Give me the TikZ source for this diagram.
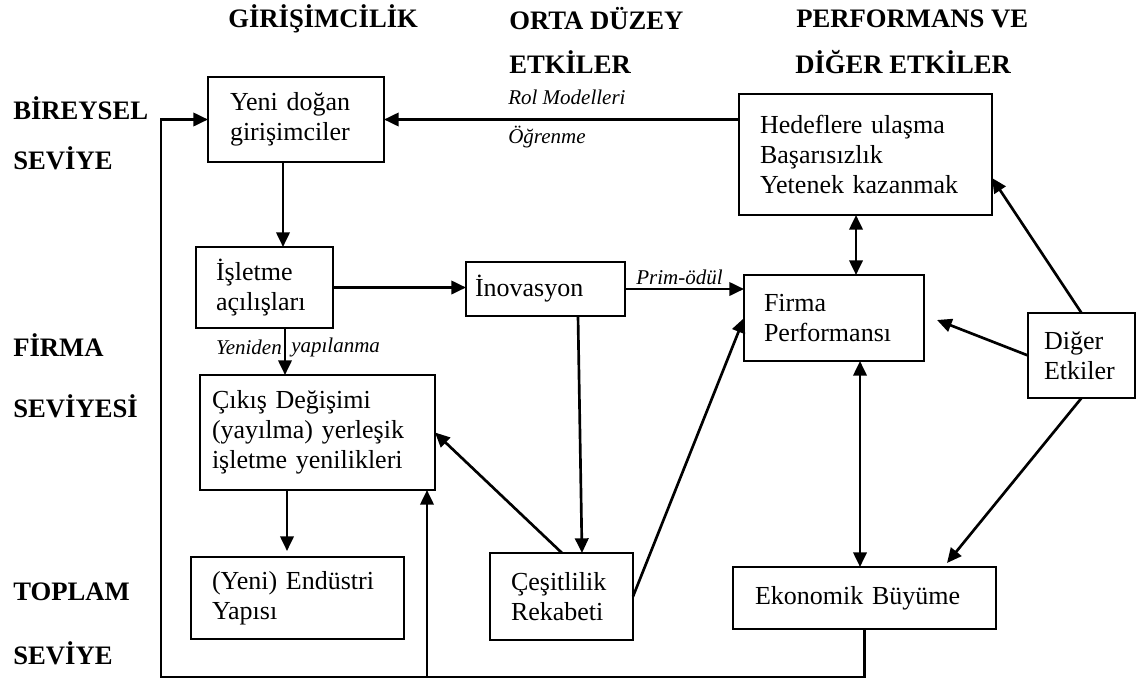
\documentclass[tikz,border=0pt]{standalone}
\usepackage{fontspec}
\setmainfont{Liberation Serif}
\usetikzlibrary{arrows.meta,calc}
\begin{document}
\begin{tikzpicture}[x=0.75pt,y=-0.75pt,
 box/.style={draw, line width=1.5pt, outer sep=0pt, inner ysep=0pt, anchor=north west, align=left, font=\fontsize{19.5}{22.5}\selectfont},
 arr/.style={line width=2pt, -{Triangle[length=11pt,width=10pt]}},
 darr/.style={line width=2pt, {Triangle[length=11pt,width=10pt]}-{Triangle[length=11pt,width=10pt]}},
 hdr/.style={anchor=west, inner sep=0pt, font=\fontsize{20}{24}\selectfont\bfseries},
 lbl/.style={anchor=west, inner sep=0pt, font=\fontsize{15.75}{18}\selectfont\itshape},
 lble/.style={anchor=east, inner sep=0pt, font=\fontsize{15.75}{18}\selectfont\itshape}]
\useasboundingbox (0,0) rectangle (1144,682);

% headers
\node[hdr] (h1) at (228,19) {GİRİŞİMCİLİK};
\node[hdr] (h2) at (509,19) {ORTA DÜZEY};
\node[hdr] (h3) at (509,62) {ETKİLER};
\node[hdr] (h4) at (796,19) {PERFORMANS VE};
\node[hdr] (h5) at (795,62) {DİĞER ETKİLER};
\node[hdr] (l1) at (13,108) {BİREYSEL};
\node[hdr] (l2) at (13,158) {SEVİYE};
\node[hdr] (l3) at (13,345) {FİRMA};
\node[hdr] (l4) at (13,406) {SEVİYESİ};
\node[hdr] (l5) at (13,592) {TOPLAM};
\node[hdr] (l6) at (13,653) {SEVİYE};

% boxes
\node[box, text width=99pt, inner xsep=16.5pt, minimum height=63.75pt] (A) at (208,77) {Yeni doğan\\girişimciler};
\node[box, text width=158.25pt, inner xsep=15.75pt, minimum height=90.75pt] (B) at (739,94) {Hedeflere ulaşma\\Başarısızlık\\Yetenek kazanmak};
\node[box, text width=72.75pt, inner xsep=15pt, minimum height=60.75pt] (C) at (196,247) {İşletme\\açılışları};
\node[box, text width=105.75pt, inner xsep=6.75pt, minimum height=40.5pt] (D) at (466,262) {İnovasyon};
\node[box, text width=105pt, inner xsep=15pt, minimum height=64.5pt] (E) at (744,275) {Firma\\Performansı};
\node[box, text width=56.25pt, inner xsep=12pt, minimum height=63.75pt] (F) at (1028,313) {Diğer\\Etkiler};
\node[box, text width=158.25pt, inner xsep=9pt, minimum height=86.25pt] (G) at (200,375) {Çıkış Değişimi\\(yayılma) yerleşik\\işletme yenilikleri};
\node[box, text width=128.25pt, inner xsep=15.75pt, minimum height=61.5pt] (H) at (191,557) {(Yeni) Endüstri\\Yapısı};
\node[box, text width=75.75pt, inner xsep=15.75pt, minimum height=65.25pt] (I) at (490,553) {Çeşitlilik\\Rekabeti};
\node[box, text width=164.25pt, inner xsep=16.5pt, minimum height=46.5pt] (J) at (733,567) {Ekonomik Büyüme};

% helper coordinates
\coordinate (xAC) at (283,0);
\coordinate (xCG) at (285,0);
\coordinate (xGH) at (287,0);
\coordinate (xDI1) at (578,0);
\coordinate (xDI2) at (582,0);
\coordinate (xIG) at (562,0);
\coordinate (xBE) at (856,0);
\coordinate (xEJ) at (860,0);
\coordinate (fbL) at (161,677);
\coordinate (gUp) at (427,677);
\coordinate (Bin) at (992,178);
\coordinate (Ein) at (937,320);
\coordinate (Jin) at (947,563);
\coordinate (Hin) at (287,551);

% connectors
\draw[arr] (B.west |- A.east) -- (A.east);
\draw[arr] (A.south -| xAC) -- (C.north -| xAC);
\draw[arr] (C.east) -- (D.west |- C.east);
\draw[arr] (C.south -| xCG) -- (G.north -| xCG);
\draw[arr] (D.east) -- (E.west |- D.east);
\draw[arr] (D.south -| xDI1) -- (I.north -| xDI2);
\draw[arr] (I.north -| xIG) -- (G.east);
\draw[arr] (I.east) -- (E.west);
\draw[arr] (G.south -| xGH) -- (Hin);
\draw[darr] (B.south -| xBE) -- (E.north -| xBE);
\draw[darr] (E.south -| xEJ) -- (J.north -| xEJ);
\draw[arr] (F.north) -- (Bin);
\draw[arr] (F.west) -- (Ein);
\draw[arr] (F.south) -- (Jin);
\draw[arr] (J.south) -- (J.south |- fbL) -- (fbL) -- (fbL |- A.west) -- (A.west);
\draw[arr] (gUp) -- (gUp |- G.south);

% labels
\node[lbl] (rol) at (508,97) {Rol Modelleri};
\node[lbl] (ogr) at (508,137) {Öğrenme};
\node[lbl] (prim) at (636,277) {Prim-ödül};
\node[lble] (yen) at (282,347) {Yeniden};
\node[lbl] (yap) at (291,347) {yapılanma};
\end{tikzpicture}
\end{document}
